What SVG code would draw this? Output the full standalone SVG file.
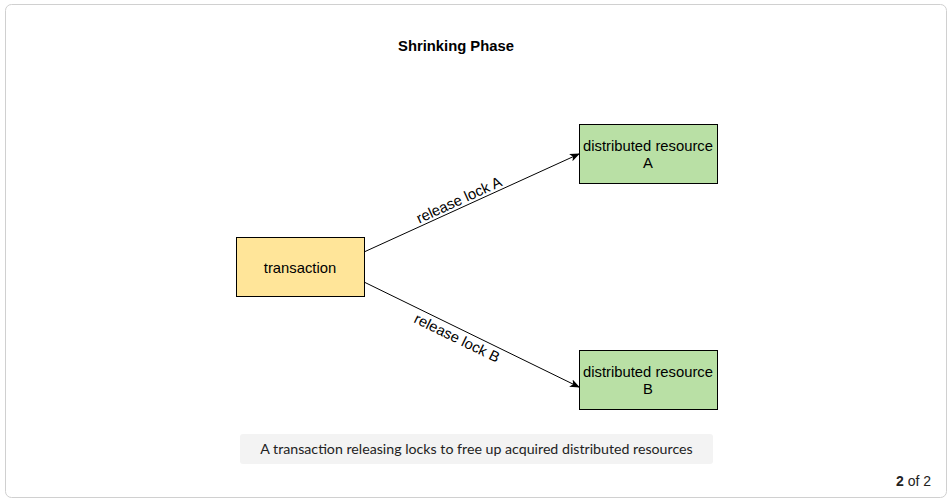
<svg xmlns="http://www.w3.org/2000/svg" width="952" height="501" viewBox="0 0 952 501">
<style>
.node{stroke:#000;stroke-width:1}
.lbl{font-family:"Liberation Sans",Arial,sans-serif;font-size:14.8px;fill:#000}
.edge{stroke:#000;stroke-width:1;fill:none}
</style>
<defs>
<marker id="arr" viewBox="0 0 10 10" refX="9" refY="5" markerWidth="10" markerHeight="10" markerUnits="userSpaceOnUse" orient="auto">
<path d="M0,1 L10,5 L0,9 L2.5,5 Z" fill="#000"/>
</marker>
</defs>
<rect x="5.5" y="4.5" width="941" height="493" rx="6" fill="#fff" stroke="#d0d0d0"/>
<text x="456" y="51" text-anchor="middle" font-family="'Liberation Sans',Arial,sans-serif" font-size="14.8" font-weight="bold">Shrinking Phase</text>
<g id="connectors">
<line class="edge" x1="364" y1="252" x2="579" y2="154" marker-end="url(#arr)"/>
<line class="edge" x1="364" y1="282" x2="579" y2="387" marker-end="url(#arr)"/>
<text class="lbl" transform="translate(459,200) rotate(-24.5)" text-anchor="middle" dy="5">release lock A</text>
<text class="lbl" transform="translate(457,338) rotate(26)" text-anchor="middle" dy="5">release lock B</text>
</g>
<g id="transaction">
<rect class="node" x="236.5" y="237.5" width="128" height="59" fill="#ffe599"/>
<text class="lbl" x="300" y="272.5" text-anchor="middle">transaction</text>
</g>
<g id="resourceA">
<rect class="node" x="579.5" y="124.5" width="138" height="59" fill="#b9e0a5"/>
<text class="lbl" x="648" y="151" text-anchor="middle">distributed resource</text>
<text class="lbl" x="648" y="168" text-anchor="middle">A</text>
</g>
<g id="resourceB">
<rect class="node" x="579.5" y="350.5" width="138" height="59" fill="#b9e0a5"/>
<text class="lbl" x="648" y="377" text-anchor="middle">distributed resource</text>
<text class="lbl" x="648" y="394" text-anchor="middle">B</text>
</g>
<g id="caption">
<rect x="240" y="434" width="473" height="30" rx="3" fill="#f3f3f3"/>
<text x="476.5" y="454" text-anchor="middle" font-family="Lato,'Open Sans',sans-serif" font-size="14.2" fill="#222">A transaction releasing locks to free up acquired distributed resources</text>
</g>
<text x="931" y="486" text-anchor="end" font-family="'Liberation Sans',Arial,sans-serif" font-size="14" fill="#222"><tspan font-weight="bold">2</tspan> of 2</text>
</svg>
